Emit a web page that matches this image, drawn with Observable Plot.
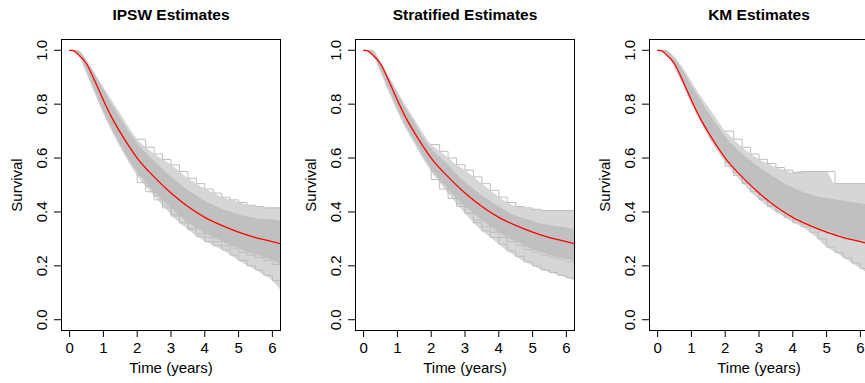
<!DOCTYPE html>
<html>
<head>
<meta charset="utf-8">
<script src="https://cdn.jsdelivr.net/npm/d3@7"></script>
<script src="https://cdn.jsdelivr.net/npm/@observablehq/plot@0.6"></script>
<style>
  html, body { margin: 0; padding: 0; background: #fff; }
  #wrap { position: relative; width: 865px; height: 383px; overflow: hidden; background: #fff; }
  .panel { position: absolute; top: 0; width: 294px; height: 383px; }
  .panel svg { max-width: none !important; }
</style>
</head>
<body>
<div id="wrap"></div>
<script>
// ---- data ----
const titles = ["IPSW Estimates", "Stratified Estimates", "KM Estimates"];
const xTicks = [0, 1, 2, 3, 4, 5, 6];
const yTicks = [0, 0.2, 0.4, 0.6, 0.8, 1.0];
const xLabel = "Time (years)";
const yLabel = "Survival";

// time grid for the simulated-estimate band
const T = [0, 0.25, 0.5, 0.75, 1, 1.25, 1.5, 1.75, 2, 2.25, 2.5, 2.75, 3, 3.25, 3.5, 3.75, 4, 4.25, 4.5, 4.75, 5, 5.25, 5.5, 5.75, 6, 6.24];

// true survival curve (red)
const trueT = [0, 0.1, 0.25, 0.5, 0.75, 1, 1.25, 1.5, 1.75, 2, 2.5, 3, 3.5, 4, 4.5, 5, 5.5, 6, 6.24];
const trueS = [1, 0.999, 0.985, 0.95, 0.885, 0.815, 0.75, 0.695, 0.645, 0.60, 0.53, 0.47, 0.42, 0.38, 0.35, 0.325, 0.305, 0.29, 0.282];

// IPSW estimates: outer envelope and dense core
const ipswUpper  = [1, 1, 0.965, 0.915, 0.865, 0.815, 0.765, 0.715, 0.67, 0.64, 0.615, 0.595, 0.575, 0.55, 0.525, 0.505, 0.485, 0.47, 0.455, 0.445, 0.435, 0.425, 0.42, 0.415, 0.415, 0.415];
const ipswCoreHi = [1, 0.998, 0.96, 0.91, 0.855, 0.80, 0.75, 0.70, 0.655, 0.62, 0.59, 0.56, 0.53, 0.505, 0.48, 0.46, 0.44, 0.425, 0.41, 0.40, 0.39, 0.382, 0.375, 0.372, 0.37, 0.365];
const ipswCoreLo = [1, 0.99, 0.925, 0.85, 0.775, 0.71, 0.65, 0.595, 0.55, 0.51, 0.475, 0.445, 0.415, 0.385, 0.36, 0.34, 0.32, 0.305, 0.29, 0.275, 0.265, 0.25, 0.24, 0.23, 0.22, 0.205];
const ipswLower  = [1, 0.985, 0.915, 0.84, 0.765, 0.70, 0.64, 0.585, 0.535, 0.495, 0.46, 0.425, 0.39, 0.36, 0.335, 0.31, 0.29, 0.275, 0.26, 0.24, 0.22, 0.20, 0.185, 0.165, 0.145, 0.11];

// Stratified estimates
const stratUpper  = [1, 1, 0.96, 0.905, 0.85, 0.795, 0.745, 0.695, 0.65, 0.625, 0.6, 0.575, 0.555, 0.53, 0.505, 0.48, 0.455, 0.435, 0.42, 0.415, 0.41, 0.405, 0.405, 0.405, 0.405, 0.405];
const stratCoreHi = [1, 0.998, 0.955, 0.9, 0.84, 0.785, 0.735, 0.68, 0.635, 0.605, 0.575, 0.54, 0.51, 0.485, 0.46, 0.44, 0.42, 0.40, 0.385, 0.375, 0.365, 0.355, 0.35, 0.345, 0.34, 0.335];
const stratCoreLo = [1, 0.99, 0.93, 0.855, 0.785, 0.72, 0.665, 0.61, 0.56, 0.52, 0.485, 0.45, 0.42, 0.395, 0.37, 0.345, 0.325, 0.305, 0.29, 0.275, 0.26, 0.25, 0.24, 0.232, 0.225, 0.215];
const stratLower  = [1, 0.985, 0.92, 0.845, 0.775, 0.71, 0.655, 0.6, 0.55, 0.51, 0.47, 0.43, 0.395, 0.36, 0.33, 0.305, 0.28, 0.255, 0.235, 0.215, 0.2, 0.185, 0.175, 0.165, 0.155, 0.145];

// KM estimates
const kmUpper  = [1, 1, 0.975, 0.935, 0.885, 0.835, 0.79, 0.745, 0.70, 0.67, 0.64, 0.615, 0.595, 0.58, 0.565, 0.555, 0.545, 0.55, 0.55, 0.55, 0.55, 0.505, 0.505, 0.505, 0.505, 0.505];
const kmCoreHi = [1, 0.999, 0.97, 0.925, 0.87, 0.82, 0.77, 0.725, 0.68, 0.645, 0.615, 0.59, 0.565, 0.545, 0.525, 0.505, 0.49, 0.475, 0.465, 0.455, 0.45, 0.445, 0.44, 0.435, 0.43, 0.425];
const kmCoreLo = [1, 0.99, 0.945, 0.88, 0.815, 0.755, 0.70, 0.65, 0.605, 0.57, 0.535, 0.505, 0.475, 0.45, 0.425, 0.405, 0.385, 0.37, 0.355, 0.34, 0.33, 0.32, 0.31, 0.30, 0.295, 0.29];
const kmLower  = [1, 0.985, 0.935, 0.87, 0.80, 0.74, 0.68, 0.63, 0.585, 0.545, 0.51, 0.475, 0.445, 0.42, 0.40, 0.38, 0.36, 0.345, 0.325, 0.30, 0.27, 0.25, 0.23, 0.21, 0.19, 0.17];

// ---- build ----
const panels = [
  {title: titles[0], up: ipswUpper, hi: ipswCoreHi, lo: ipswCoreLo, low: ipswLower},
  {title: titles[1], up: stratUpper, hi: stratCoreHi, lo: stratCoreLo, low: stratLower},
  {title: titles[2], up: kmUpper, hi: kmCoreHi, lo: kmCoreLo, low: kmLower}
];
const trueData = trueT.map((t, i) => ({t, s: trueS[i]}));
const fmt = d3.format(".1f");
const FONT = "'Liberation Sans', Arial, Helvetica, sans-serif";
const GRAY = "#bebebe";
const FS = 15;

const wrap = document.getElementById("wrap");
panels.forEach((p, k) => {
  const rows = T.map((t, i) => ({t, up: p.up[i], hi: p.hi[i], lo: p.lo[i], low: p.low[i]}));
  const tail = rows.filter(d => d.t >= 2);
  const chart = Plot.plot({
    width: 294,
    height: 383,
    marginLeft: 61,
    marginRight: 14,
    marginTop: 39,
    marginBottom: 53,
    style: {fontFamily: FONT, fontSize: FS + "px", color: "#000", background: "#fff", maxWidth: "none"},
    x: {domain: [-0.24, 6.24]},
    y: {domain: [-0.04, 1.04]},
    marks: [
      Plot.areaY(rows, {x: "t", y1: "low", y2: "up", fill: "#d6d6d6", curve: "monotone-x", clip: true}),
      Plot.areaY(rows, {x: "t", y1: "lo", y2: "hi", fill: "#c0c0c0", curve: "monotone-x", clip: true}),
      Plot.line(tail, {x: "t", y: "up", stroke: GRAY, strokeWidth: 1, curve: "step-after", clip: true}),
      Plot.line(tail, {x: "t", y: "low", stroke: GRAY, strokeWidth: 1, curve: "step-after", clip: true}),
      Plot.line(tail, {x: "t", y: "hi", stroke: GRAY, strokeWidth: 1, curve: "step-before", clip: true}),
      Plot.line(tail, {x: "t", y: "lo", stroke: GRAY, strokeWidth: 1, curve: "step-before", clip: true}),
      Plot.line(trueData, {x: "t", y: "s", stroke: "#ff0000", strokeWidth: 1.3, curve: "monotone-x", clip: true}),
      Plot.frame({stroke: "#000", strokeWidth: 1}),
      Plot.axisX({ticks: xTicks, tickSize: 7, tickPadding: 5, fontSize: FS, label: null, tickFormat: d3.format("d")}),
      Plot.axisY({ticks: yTicks, tickSize: 7, tickFormat: () => "", label: null}),
      Plot.text(yTicks, {y: d => d, text: d => fmt(d), frameAnchor: "left", dx: -19, rotate: -90, textAnchor: "middle", lineAnchor: "middle", fontSize: FS}),
      Plot.text([yLabel], {text: d => d, frameAnchor: "left", dx: -44, rotate: -90, textAnchor: "middle", lineAnchor: "middle", fontSize: FS}),
      Plot.text([xLabel], {text: d => d, frameAnchor: "bottom", dy: 38, textAnchor: "middle", lineAnchor: "middle", fontSize: FS}),
      Plot.text([p.title], {text: d => d, frameAnchor: "top", dy: -24, textAnchor: "middle", lineAnchor: "middle", fontSize: 15.5, fontWeight: "bold"})
    ]
  });
  const div = document.createElement("div");
  div.className = "panel";
  div.style.left = (k * 294) + "px";
  div.appendChild(chart);
  wrap.appendChild(div);
});
</script>
</body>
</html>
